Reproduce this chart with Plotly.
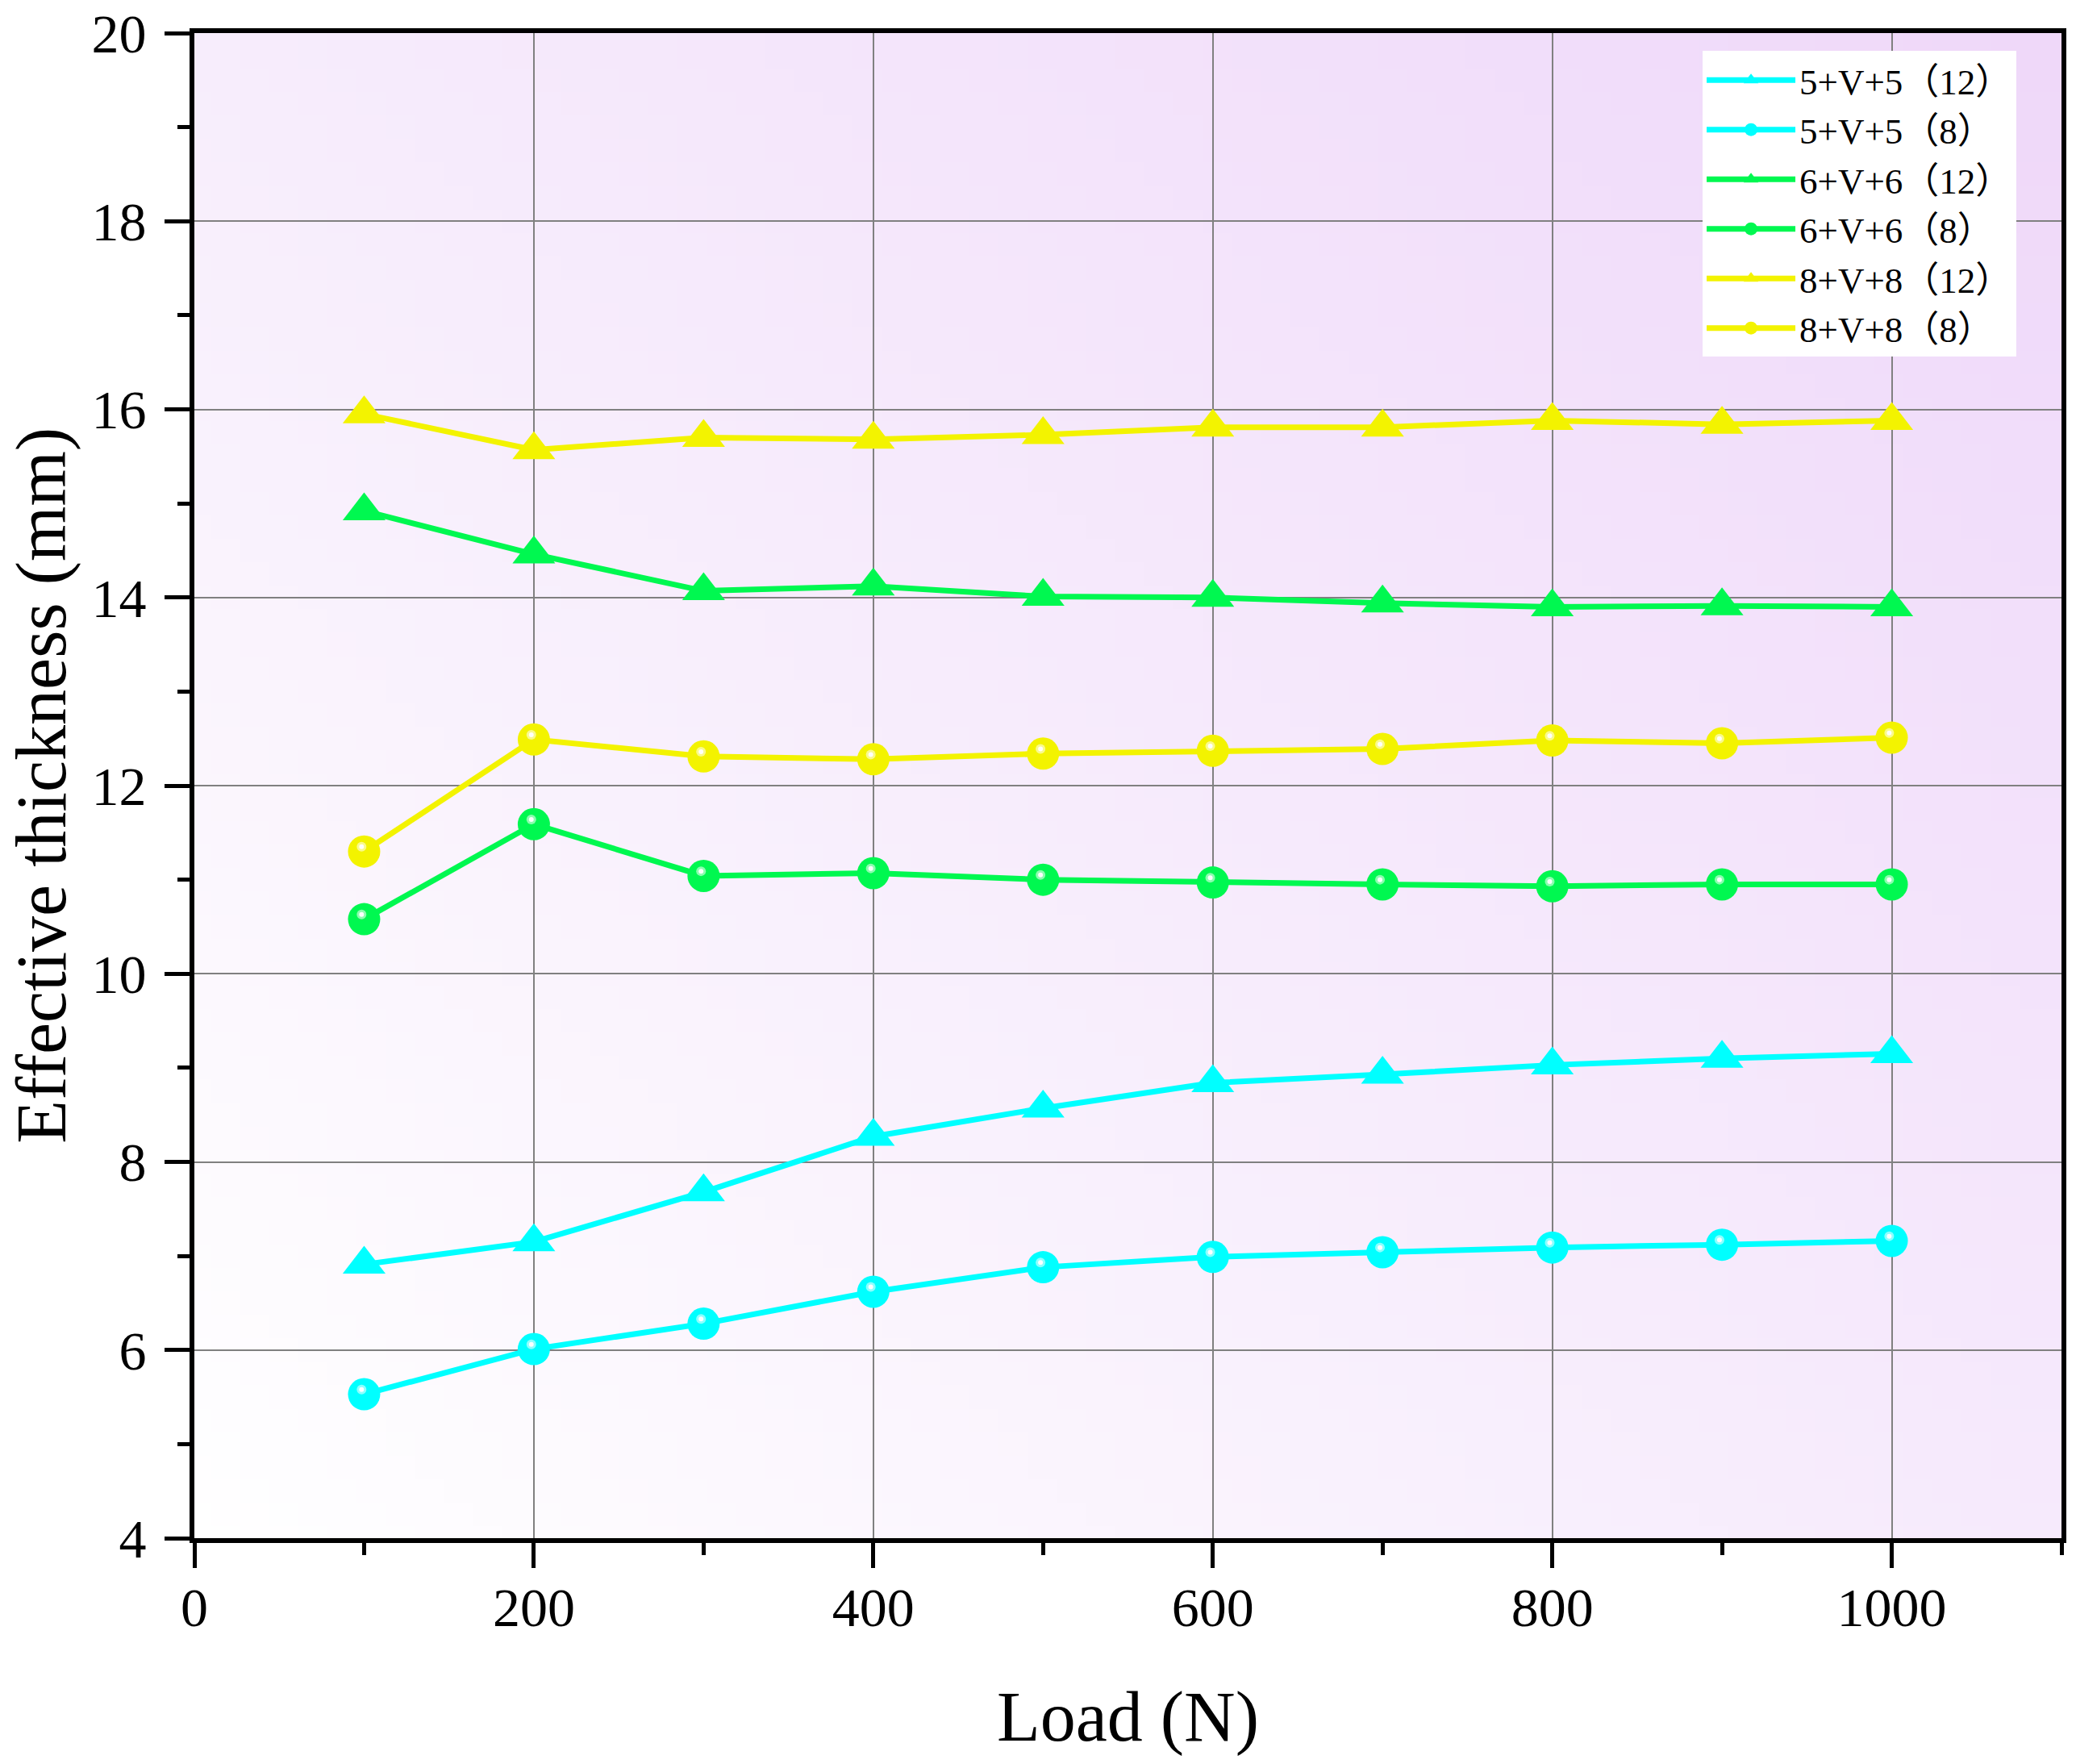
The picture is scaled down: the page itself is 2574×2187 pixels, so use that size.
import zlib, struct, base64
import plotly.graph_objects as go

# ---------------- data ----------------
loads = [100, 200, 300, 400, 500, 600, 700, 800, 900, 1000]
s5_12 = [6.91, 7.15, 7.68, 8.27, 8.57, 8.84, 8.93, 9.03, 9.10, 9.15]
s5_8 = [5.53, 6.01, 6.28, 6.62, 6.88, 6.99, 7.04, 7.09, 7.12, 7.16]
s6_12 = [14.92, 14.46, 14.07, 14.12, 14.01, 14.00, 13.94, 13.90, 13.91, 13.90]
s6_8 = [10.58, 11.59, 11.04, 11.07, 11.00, 10.97, 10.95, 10.93, 10.95, 10.95]
s8_12 = [15.95, 15.57, 15.70, 15.68, 15.73, 15.81, 15.81, 15.88, 15.84, 15.88]
s8_8 = [11.30, 12.49, 12.31, 12.28, 12.34, 12.37, 12.39, 12.48, 12.45, 12.51]
names = ["5+V+5（12）", "5+V+5（8）", "6+V+6（12）", "6+V+6（8）", "8+V+8（12）", "8+V+8（8）"]
x_ticks = [0, 200, 400, 600, 800, 1000]
y_ticks = [4, 6, 8, 10, 12, 14, 16, 18, 20]
x_title = "Load (N)"
y_title = "Effective thickness (mm)"

CYAN = "#00FFFF"
GREEN = "#00F850"
YELLOW = "#F3F300"

series = [
    (s5_12, CYAN, "triangle-up"),
    (s5_8, CYAN, "circle"),
    (s6_12, GREEN, "triangle-up"),
    (s6_8, GREEN, "circle"),
    (s8_12, YELLOW, "triangle-up"),
    (s8_8, YELLOW, "circle"),
]

# ---------------- gradient background image ----------------
def gradient_png(w=64, h=64):
    bl = (255, 255, 255)
    tl = (247, 237, 252)
    br = (246, 234, 252)
    tr = (239, 216, 249)
    raw = bytearray()
    for j in range(h):
        raw.append(0)
        v = 1 - j / (h - 1)
        for i in range(w):
            u = i / (w - 1)
            px = []
            for c in range(3):
                val = (bl[c] * (1 - u) * (1 - v) + br[c] * u * (1 - v)
                       + tl[c] * (1 - u) * v + tr[c] * u * v)
                px.append(int(round(val)))
            raw += bytes(px)

    def chunk(t, d):
        return struct.pack(">I", len(d)) + t + d + struct.pack(">I", zlib.crc32(t + d) & 0xFFFFFFFF)

    png = (b"\x89PNG\r\n\x1a\n"
           + chunk(b"IHDR", struct.pack(">IIBBBBB", w, h, 8, 2, 0, 0, 0))
           + chunk(b"IDAT", zlib.compress(bytes(raw)))
           + chunk(b"IEND", b""))
    return "data:image/png;base64," + base64.b64encode(png).decode()

FONT = "Liberation Serif, Times New Roman, Noto Sans CJK SC, serif"

fig = go.Figure()
for (ys, col, sym), nm in zip(series, names):
    fig.add_trace(go.Scatter(
        x=loads, y=ys, name=nm, mode="lines+markers",
        line=dict(color=col, width=7),
        marker=dict(symbol=sym, color=col, size=46 if sym == "triangle-up" else 40,
                    line=dict(width=0)),
    ))

# sphere highlights (drawn on slightly shifted overlay axes)
for (ys, col, sym) in series:
    if sym == "circle":
        fig.add_trace(go.Scatter(
            x=loads, y=ys, mode="markers", showlegend=False, hoverinfo="skip",
            xaxis="x2", yaxis="y2",
            marker=dict(symbol="circle", size=12, color="rgba(255,255,255,0.55)",
                        line=dict(width=0)),
        ))
        fig.add_trace(go.Scatter(
            x=loads, y=ys, mode="markers", showlegend=False, hoverinfo="skip",
            xaxis="x2", yaxis="y2",
            marker=dict(symbol="circle", size=6, color="rgba(255,255,255,0.95)",
                        line=dict(width=0)),
        ))

axis_common = dict(
    showline=True, linewidth=6, linecolor="black", mirror=True,
    ticks="outside", ticklen=31, tickwidth=5, tickcolor="black",
    showgrid=True, gridcolor="#808080", gridwidth=2,
    zeroline=False, automargin=False, ticklabeloverflow="allow",
    tickfont=dict(family=FONT, size=68, color="black"),
)

fig.update_layout(
    width=2574, height=2187,
    margin=dict(l=241, r=18, t=41, b=280),
    paper_bgcolor="white",
    plot_bgcolor="rgba(0,0,0,0)",
    font=dict(family=FONT, color="black"),
    xaxis=dict(
        range=[0, 1100], tickvals=x_ticks, ticktext=[str(v) for v in x_ticks],
        ticklabelstandoff=-10,
        minor=dict(dtick=100, tick0=0, ticks="outside", ticklen=15, tickwidth=5,
                   tickcolor="black", showgrid=False),
        **axis_common,
    ),
    yaxis=dict(
        range=[4, 20], tickvals=y_ticks, ticktext=[str(v) for v in y_ticks],
        ticklabelstandoff=9,
        minor=dict(dtick=1, tick0=0, ticks="outside", ticklen=15, tickwidth=5,
                   tickcolor="black", showgrid=False),
        **axis_common,
    ),
    xaxis2=dict(overlaying="x", range=[1.5, 1101.5], visible=False, showgrid=False),
    yaxis2=dict(overlaying="y", range=[3.95, 19.95], visible=False, showgrid=False),
    legend=dict(
        x=0.8078, y=0.988, xanchor="left", yanchor="top",
        bgcolor="white", borderwidth=0,
        font=dict(family=FONT, size=45, color="black"),
        itemwidth=110, tracegroupgap=0,
    ),
    annotations=[
        dict(text=x_title, xref="paper", yref="paper", x=0.5, y=-0.1188,
             xanchor="center", yanchor="middle", showarrow=False,
             font=dict(family=FONT, size=88, color="black")),
        dict(text=y_title, xref="paper", yref="paper", x=-0.0822, y=0.5,
             xanchor="center", yanchor="middle", showarrow=False, textangle=-90,
             font=dict(family=FONT, size=88, color="black")),
    ],
    images=[dict(
        source=gradient_png(), xref="x", yref="y", x=0, y=20, sizex=1100, sizey=16,
        sizing="stretch", layer="below", xanchor="left", yanchor="top",
    )],
    showlegend=True,
)

fig.write_html(
    "out.html",
    config={"displayModeBar": False},
    post_script="document.body.style.margin='0';document.body.style.overflow='hidden';",
)
